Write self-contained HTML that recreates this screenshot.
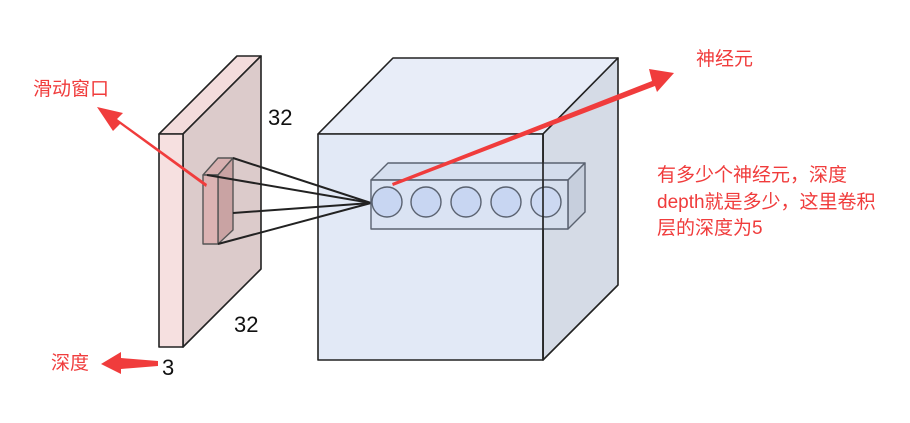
<!DOCTYPE html>
<html><head><meta charset="utf-8"><style>
html,body{margin:0;padding:0;background:#fff;}
svg{display:block}
text{font-family:"Liberation Sans","Noto Sans CJK SC",sans-serif;}
</style></head><body>
<svg width="910" height="423" viewBox="0 0 910 423" xmlns="http://www.w3.org/2000/svg">
<rect width="910" height="423" fill="#fff"/>
<!-- input slab -->
<g stroke="#222" stroke-width="1.6" stroke-linejoin="round">
<polygon points="159,134 237,56 261,56 183,134" fill="#f3dcdc"/>
<polygon points="183,134 261,56 261,269 183,347" fill="#dccbcb"/>
<rect x="159" y="134" width="24" height="213" fill="#f6e0e0"/>
</g>
<!-- window -->
<g stroke="#555" stroke-width="1.4" stroke-linejoin="round">
<polygon points="203,175 218,158 233,158 218,175" fill="#d7b0b0"/>
<polygon points="218,175 233,158 233,230 218,244" fill="#c9a3a3"/>
<rect x="203" y="175" width="15" height="69" fill="#dcb3b3"/>
</g>
<!-- cube -->
<g stroke="#222" stroke-width="1.6" stroke-linejoin="round">
<polygon points="318,134 393,58 618,58 543,134" fill="#e8edf8"/>
<polygon points="543,134 618,58 618,285 543,360" fill="#d5dbe6"/>
<rect x="318" y="134" width="225" height="226" fill="#e2e9f6"/>
</g>
<g stroke="#222" stroke-width="2">
<line x1="233" y1="158" x2="371" y2="203"/>
<line x1="207" y1="175" x2="371" y2="203"/>
<line x1="233" y1="213" x2="371" y2="203"/>
<line x1="218" y1="244" x2="371" y2="203"/>
</g>
<!-- neuron box -->
<g stroke="#5a6270" stroke-width="1.4" stroke-linejoin="round">
<polygon points="371,180 388,163 585,163 568,180" fill="#d2dcee" fill-opacity="0.8"/>
<polygon points="568,180 585,163 585,212 568,229" fill="#c3ccdb" fill-opacity="0.8"/>
<rect x="371" y="180" width="197" height="49" fill="#d6e0f2" fill-opacity="0.6"/>
<circle cx="387" cy="202" r="15" fill="#c8d6f2"/>
<circle cx="426" cy="202" r="15" fill="#c8d6f2"/>
<circle cx="466" cy="202" r="15" fill="#c8d6f2"/>
<circle cx="506" cy="202" r="15" fill="#c8d6f2"/>
<circle cx="546" cy="202" r="15" fill="#c8d6f2" fill-opacity="0.7"/>
</g>
<line x1="543" y1="134" x2="543" y2="360" stroke="#222" stroke-width="1.6"/>
<!-- labels -->
<text x="268" y="125" font-size="22" fill="#111">32</text>
<text x="234" y="332" font-size="22" fill="#111">32</text>
<text x="162" y="375" font-size="22" fill="#111">3</text>
<!-- red arrows -->
<g fill="#f03c3c">
<polygon points="392,183 652,81 649,69 674,73 657,92 655,86 393,186"/>
<polygon points="206,187 120,124 113,131 97,107 123,113 117,119 207,184"/>
<polygon points="158,361 121,358 121,352 101,364 121,374 121,369 158,366"/>
</g>
<g fill="#f03c3c" font-size="19">
<text x="696" y="65">神经元</text>
<text x="33" y="95">滑动窗口</text>
<text x="51" y="369">深度</text>
<text x="657" y="181">有多少个神经元，深度</text>
<text x="657" y="208">depth就是多少，这里卷积</text>
<text x="657" y="234">层的深度为5</text>
</g>
</svg>
</body></html>
